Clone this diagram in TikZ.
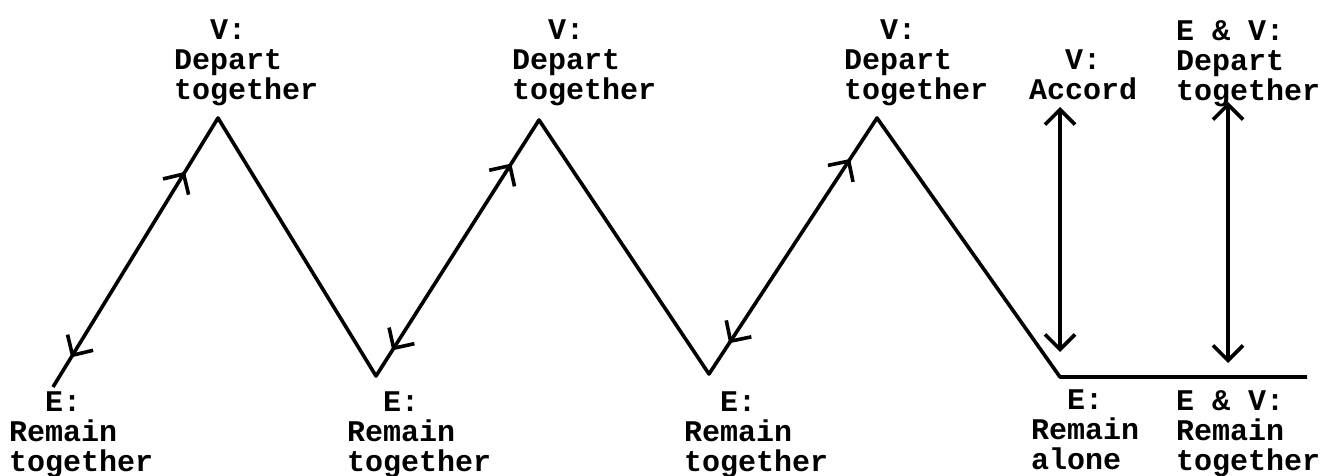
\documentclass[tikz,border=0pt]{standalone}
\usepackage{fontspec}
\setmonofont{Liberation Mono}
\usetikzlibrary{arrows.meta,decorations.markings}

\begin{document}
\begin{tikzpicture}[x=1pt, y=-1pt,
    txt/.style={anchor=north west, inner sep=0pt, align=left,
        font=\ttfamily\bfseries\fontsize{30}{30}\selectfont},
    zz/.style={line width=3.6pt, line join=round},
    barb/.style={line width=3.6pt, {Straight Barb[length=15pt,width=30pt]}-{Straight Barb[length=15pt,width=30pt]}},
    twoway/.style 2 args={postaction={decorate}, decoration={markings,
        mark=at position #1 with {\arrowreversed{Straight Barb[length=15pt,width=30pt]}},
        mark=at position #2 with {\arrow{Straight Barb[length=15pt,width=30pt]}}}}]

    \useasboundingbox (0,0) rectangle (1328,476);

    \coordinate (s0) at (53,387);
    \coordinate (p1) at (218,118);
    \coordinate (v1) at (376,376);
    \coordinate (p2) at (539,120);
    \coordinate (v2) at (709,374);
    \coordinate (p3) at (877,118);
    \coordinate (v3) at (1060,377);
    \coordinate (end) at (1307,377);

    \draw[zz] (s0) -- (p1) -- (v1) -- (p2) -- (v2) -- (p3) -- (v3) -- (end);
    \path[zz, twoway={0.11}{0.80}] (s0) -- (p1);
    \path[zz, twoway={0.10}{0.83}] (v1) -- (p2);
    \path[zz, twoway={0.12}{0.84}] (v2) -- (p3);

    \coordinate (accTop) at (1060,107);
    \coordinate (accBot) at (1060,352);
    \coordinate (evTop) at (1228,102);
    \coordinate (evBot) at (1228,363);
    \draw[barb] (accTop) -- (accBot);
    \draw[barb] (evTop) -- (evBot);

    \node[txt] (t1) at (174,20) {\ \ V:\\Depart\\together};
    \node[txt] (t2) at (512,20) {\ \ V:\\Depart\\together};
    \node[txt] (t3) at (844,20) {\ \ V:\\Depart\\together};
    \node[txt] (t4) at (1029,50) {\ \ V:\\Accord};
    \node[txt] (t5) at (1176,20) {E \& V:\\Depart\\together};

    \node[txt] (b1) at (9,392) {\ \ E:\\Remain\\together};
    \node[txt] (b2) at (347,392) {\ \ E:\\Remain\\together};
    \node[txt] (b3) at (684,392) {\ \ E:\\Remain\\together};
    \node[txt] (b4) at (1031,390) {\ \ E:\\Remain\\alone};
    \node[txt] (b5) at (1176,390) {E \& V:\\Remain\\together};
\end{tikzpicture}
\end{document}
